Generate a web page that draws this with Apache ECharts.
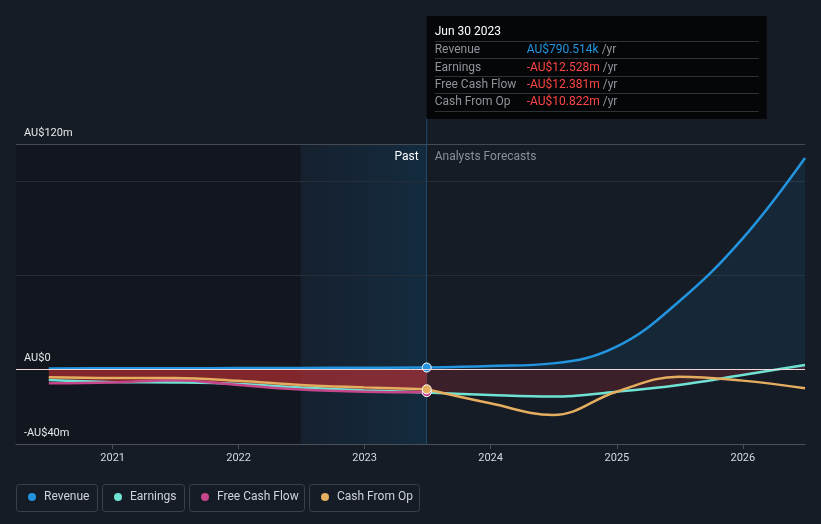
<!DOCTYPE html>
<html>
<head>
<meta charset="utf-8">
<script src="https://cdn.jsdelivr.net/npm/echarts@6/dist/echarts.min.js"></script>
<style>
html,body{margin:0;padding:0;background:#161c26;}
#chart{width:821px;height:524px;}
</style>
</head>
<body>
<div id="chart"></div>
<script>
// ---- data (values in AU$ millions) ----
const pastDates = ['2020-06-30','2020-12-31','2021-06-30','2021-12-31','2022-06-30','2022-12-31','2023-06-30'];
const revenuePast = [0.3, 0.35, 0.4, 0.5, 0.6, 0.7, 0.790514];
const earningsPast = [-5.9, -7.0, -7.2, -8.0, -9.9, -11.4, -12.528];
const fcfPast = [-7.6, -7.2, -6.0, -8.5, -10.9, -12.1, -12.381];
const cfoPast = [-4.4, -4.8, -4.8, -6.3, -8.5, -9.8, -10.822];

const forecastDates = ['2023-06-30','2023-12-31','2024-06-30','2024-12-31','2025-06-30','2025-12-31','2026-06-30'];
const revenueForecast = [0.790514, 1.6, 3.0, 11.9, 36, 69.5, 112.5];
const earningsForecast = [-12.528, -13.9, -14.7, -12.1, -8.5, -3.2, 2.1];
const cfoForecast = [-10.822, -18.3, -24.5, -12.1, -4.1, -6.2, -10.3];

const yearTicks = ['2021-01-01','2022-01-01','2023-01-01','2024-01-01','2025-01-01','2026-01-01'];
const yTickValues = [-40, 0, 120];
const gridValues = [100, 50];
const axisStart = '2020-03-27';
const axisEnd = '2026-06-30';
const bandStart = '2022-06-30';
const nowDate = '2023-06-30';
const nowLabel = 'Jun 30 2023';

const names = ['Revenue', 'Earnings', 'Free Cash Flow', 'Cash From Op'];
const colors = ['#2394df', '#6fe3d3', '#c5468a', '#e5ad5f'];

// ---- helpers ----
function ts(s){ const p = s.split('-').map(Number); return Date.UTC(p[0], p[1]-1, p[2]); }
function pairs(dates, vals){ return dates.map((d,i)=>[ts(d), vals[i]]); }
function withDot(arr, color){
  const out = arr.slice(0, -1);
  const last = arr[arr.length-1];
  out.push({value: last, symbol:'circle', symbolSize: 9, itemStyle:{color: color, borderColor:'#ffffff', borderWidth:1}});
  return out;
}
function fmtMoney(v){
  const neg = v < 0; const a = Math.abs(v);
  const s = a < 1 ? (a*1000).toFixed(3) + 'k' : a.toFixed(3) + 'm';
  return (neg ? '-' : '') + 'AU$' + s;
}
const FONT = 'Roboto, "Noto Sans", sans-serif';

const chart = echarts.init(document.getElementById('chart'), null, {renderer:'canvas'});

const lineBase = { type:'line', smooth:0.4, symbol:'none', showSymbol:true, silent:true, z:3 };

const option = {
  backgroundColor:'#161c26',
  animation:false,
  textStyle:{fontFamily: FONT},
  grid:{left:16, right:16, top:144, bottom:80},
  xAxis:{
    type:'value', min: ts(axisStart), max: ts(axisEnd),
    axisLine:{show:true, onZero:false, lineStyle:{color:'#4b5058', width:1}},
    axisTick:{show:true, customValues: yearTicks.map(ts), length:5, lineStyle:{color:'#4b5058'}},
    axisLabel:{customValues: yearTicks.map(ts), formatter: v => String(new Date(v).getUTCFullYear()),
      color:'#d6d9de', fontSize:11, margin:9, fontFamily: FONT},
    splitLine:{show:false}
  },
  yAxis:{
    type:'value', min:-40, max:120,
    axisLine:{show:false}, axisTick:{show:false}, splitLine:{show:false},
    axisLabel:{inside:true, customValues: yTickValues, margin:8,
      formatter: v => v === 0 ? 'AU$0' : (v < 0 ? '-AU$' + Math.abs(v) + 'm' : 'AU$' + v + 'm'),
      color:'#e6e8eb', fontSize:11, fontFamily: FONT, verticalAlign:'bottom', padding:[0,0,5,0]}
  },
  legend: names.map((n, i) => ({
    data:[n], left:[28, 114, 201, 321][i], top:490, padding:0, icon:'circle', itemWidth:8, itemHeight:8,
    selectedMode:false,
    textStyle:{color:'#d0d3d8', fontSize:12, fontFamily: FONT, padding:[0,0,0,3], lineHeight:14}
  })),
  series: [
    { type:'line', name:'_bg', data:[], silent:true, z:0,
      markArea:{silent:true, z:0, data:[
        [{xAxis: ts(axisStart), itemStyle:{color:'rgba(0,0,0,0.17)'}}, {xAxis: ts(bandStart)}],
        [{xAxis: ts(bandStart), itemStyle:{color:{type:'linear', x:0, y:0, x2:1, y2:0, colorStops:[
          {offset:0, color:'rgba(15,60,95,0.15)'}, {offset:1, color:'rgba(15,75,115,0.33)'}]}}}, {xAxis: ts(nowDate)}]
      ]},
      markLine:{silent:true, z:0, symbol:['none','none'], label:{show:false}, data:[
        {yAxis:120, lineStyle:{color:'#464b53', width:1, type:'solid'}},
        ...gridValues.map(v => ({yAxis:v, lineStyle:{color:'#272d36', width:1, type:'solid'}})),
        {xAxis: ts(nowDate), lineStyle:{color:'#1f4a68', width:1, type:'solid'}}
      ]}
    },
    Object.assign({}, lineBase, {name:'Earnings', data: pairs(pastDates, earningsPast),
      itemStyle:{color: colors[1]}, lineStyle:{color: colors[1], width:2.5},
      areaStyle:{color:'rgba(205,48,52,0.85)', origin:0}}),
    Object.assign({}, lineBase, {name:'Earnings', data: pairs(forecastDates, earningsForecast),
      itemStyle:{color: colors[1]}, lineStyle:{color: colors[1], width:2.5},
      areaStyle:{color:'rgba(220,50,55,0.28)', origin:0}}),
    Object.assign({}, lineBase, {name:'Free Cash Flow', data: withDot(pairs(pastDates, fcfPast), colors[2]),
      itemStyle:{color: colors[2]}, lineStyle:{color: colors[2], width:2.5}}),
    Object.assign({}, lineBase, {name:'Cash From Op', data: pairs(forecastDates, cfoForecast),
      itemStyle:{color: colors[3]}, lineStyle:{color: colors[3], width:2.5}}),
    Object.assign({}, lineBase, {name:'Cash From Op', data: withDot(pairs(pastDates, cfoPast), colors[3]),
      itemStyle:{color: colors[3]}, lineStyle:{color: colors[3], width:2.5}}),
    { type:'line', name:'_zero', data:[], silent:true, z:3,
      markLine:{silent:true, symbol:['none','none'], label:{show:false}, data:[
        {yAxis:0, lineStyle:{color:'#f3d6d6', width:1, type:'solid'}}]} },
    Object.assign({}, lineBase, {name:'Revenue', data: pairs(forecastDates, revenueForecast),
      itemStyle:{color: colors[0]}, lineStyle:{color: colors[0], width:2.5},
      areaStyle:{color:'rgba(35,148,223,0.14)', origin:0}}),
    Object.assign({}, lineBase, {name:'Revenue', data: withDot(pairs(pastDates, revenuePast), colors[0]),
      itemStyle:{color: colors[0]}, lineStyle:{color: colors[0], width:2.5}})
  ]
};
chart.setOption(option);

// ---- overlay texts / tooltip / legend boxes ----
const px = chart.convertToPixel({xAxisIndex:0}, ts(nowDate));
const tipRows = [
  [names[0], fmtMoney(revenuePast[revenuePast.length-1]), '#2394df'],
  [names[1], fmtMoney(earningsPast[earningsPast.length-1]), '#ff4646'],
  [names[2], fmtMoney(fcfPast[fcfPast.length-1]), '#ff4646'],
  [names[3], fmtMoney(cfoPast[cfoPast.length-1]), '#ff4646']
];
const sepYs = [41, 58, 76, 93, 111];
const rowYs = [50, 67.5, 85, 102];
const g = [];
g.push({type:'line', silent:true, shape:{x1:px, y1:118, x2:px, y2:144}, style:{stroke:'#1f4a68', lineWidth:1}});
g.push({type:'rect', silent:true, shape:{x:px, y:16, width:340, height:103}, style:{fill:'#050608'}});
g.push({type:'text', silent:true, x:px+8, y:32, style:{text:nowLabel, fill:'#ffffff', fontSize:12, fontFamily:FONT, verticalAlign:'middle'}});
sepYs.forEach(y => g.push({type:'line', silent:true, shape:{x1:px+8, y1:y+0.5, x2:px+332, y2:y+0.5}, style:{stroke:'#2e3238', lineWidth:1}}));
tipRows.forEach((r, i) => {
  g.push({type:'text', silent:true, x:px+8, y:rowYs[i], style:{text:r[0], fill:'#8e949b', fontSize:12, fontFamily:FONT, verticalAlign:'middle'}});
  g.push({type:'text', silent:true, x:px+100, y:rowYs[i], style:{text:'{v|' + r[1] + '} {u|/yr}', fontSize:12, fontFamily:FONT, verticalAlign:'middle',
    rich:{v:{fill:r[2], fontSize:12, fontFamily:FONT}, u:{fill:'#8e949b', fontSize:12, fontFamily:FONT}}}});
});
g.push({type:'text', silent:true, x:px-8, y:157, style:{text:'Past', fill:'#ffffff', fontSize:12, fontFamily:FONT, align:'right', verticalAlign:'middle'}});
g.push({type:'text', silent:true, x:px+8, y:157, style:{text:'Analysts Forecasts', fill:'#8b9097', fontSize:12, fontFamily:FONT, align:'left', verticalAlign:'middle'}});
const boxes = [[16,81],[102,82],[189,115],[309,110]];
boxes.forEach(b => g.push({type:'rect', silent:true, shape:{x:b[0]+0.5, y:484.5, width:b[1], height:27, r:3}, style:{fill:'none', stroke:'#3b414a', lineWidth:1}}));
chart.setOption({graphic:{elements:g}});
</script>
</body>
</html>
